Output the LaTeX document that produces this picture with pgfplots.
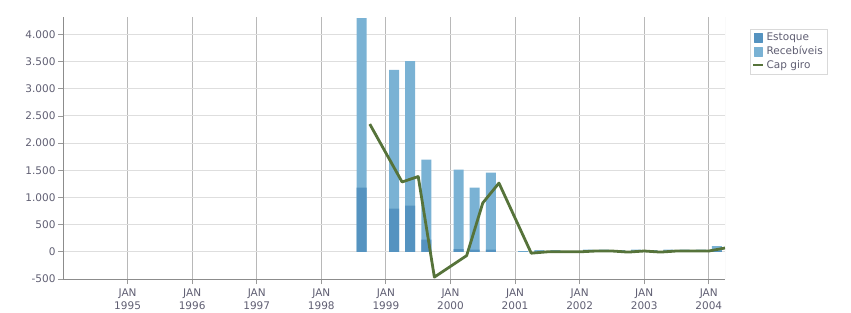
\documentclass[border=0pt]{standalone}
\usepackage{fontspec}
\setmainfont{DejaVu Sans}
\usepackage{pgfplots}
\usepackage{pgfplotstable}
\pgfplotsset{compat=1.18}
\definecolor{cEst}{HTML}{5593C0}
\definecolor{cRec}{HTML}{7AB2D4}
\definecolor{cCap}{HTML}{56733A}
\definecolor{cLbl}{HTML}{5F5E72}
\pgfplotstableread{
date est rec
1998.625 1180 3120
1999.125 795 2550
1999.375 850 2660
1999.625 226 1468
2000.125 50 1460
2000.375 40 1140
2000.625 40 1415
2001.125 5 10
2001.375 10 20
2001.625 10 20
2002.125 10 30
2002.375 10 30
2002.625 10 20
2002.875 10 30
2003.125 10 20
2003.375 10 30
2003.625 10 30
2003.875 10 30
2004.125 20 85
}\bars
\pgfplotstableread{
date cap
1998.75 2350
1999.25 1285
1999.5 1385
1999.75 -465
2000.25 -70
2000.5 900
2000.75 1265
2001.25 -25
2001.5 0
2001.75 0
2002.0 0
2002.25 15
2002.5 15
2002.75 -5
2003.0 15
2003.25 -5
2003.5 15
2003.75 15
2004.0 15
2004.25 70
}\capgiro
\begin{document}
\begin{tikzpicture}[x=1pt,y=1pt]
\useasboundingbox (0,0) rectangle (851,313);
\begin{axis}[
  at={(63pt,34pt)}, anchor=south west,
  scale only axis, width=662pt, height=262pt,
  xmin=1994, xmax=2004.25, ymin=-500, ymax=4320,
  axis lines*=left,
  axis line style={draw=gray!90},
  every axis plot/.append style={line join=round},
  xtick={1995,...,2004},
  xticklabels={{JAN\\1995},{JAN\\1996},{JAN\\1997},{JAN\\1998},{JAN\\1999},{JAN\\2000},{JAN\\2001},{JAN\\2002},{JAN\\2003},{JAN\\2004}},
  xticklabel style={align=center, font=\fontsize{10.5}{13.5}\selectfont, text=cLbl, yshift=-1pt},
  minor x tick num=3,
  ytick={-500,0,...,4000},
  yticklabel style={font=\fontsize{10.5}{12}\selectfont, text=cLbl, xshift=1pt},
  /pgf/number format/assume math mode=true,
  /pgf/number format/1000 sep={.},
  tick align=outside,
  major tick length=5pt, minor tick length=3pt,
  tick style={draw=gray!80, line width=0.8pt},
  xmajorgrids, ymajorgrids,
  x grid style={draw=black!28, line width=0.9pt},
  y grid style={draw=black!13, line width=0.9pt},
  legend style={at={(1,1)}, anchor=north west, xshift=25pt, yshift=-12pt,
    draw=black!15, font=\fontsize{10.5}{12}\selectfont, text=cLbl,
    inner sep=2pt, row sep=0pt, cells={anchor=west}},
  legend cell align=left,
]
\addplot[ybar, bar width=10pt, bar shift=0pt, fill=cRec, draw=none, forget plot]
  table[x=date, y expr=\thisrow{est}+\thisrow{rec}] {\bars};
\addplot[ybar, bar width=10pt, bar shift=0pt, fill=cEst, draw=none, forget plot]
  table[x=date, y=est] {\bars};
\addplot[draw=cCap, line width=2.8pt, forget plot] table[x=date, y=cap] {\capgiro};
\draw[black!15, line width=0.8pt] (rel axis cs:1,0) -- (rel axis cs:1,1);
\addlegendimage{legend image code/.code={\fill[cEst] (0pt,-4.5pt) rectangle (8pt,4.5pt);}}
\addlegendentry{Estoque}
\addlegendimage{legend image code/.code={\fill[cRec] (0pt,-4.5pt) rectangle (8pt,4.5pt);}}
\addlegendentry{Recebíveis}
\addlegendimage{legend image code/.code={\draw[cCap, line width=2.4pt] (-1pt,0pt) -- (9pt,0pt);}}
\addlegendentry{Cap giro}
\end{axis}
\end{tikzpicture}
\end{document}
